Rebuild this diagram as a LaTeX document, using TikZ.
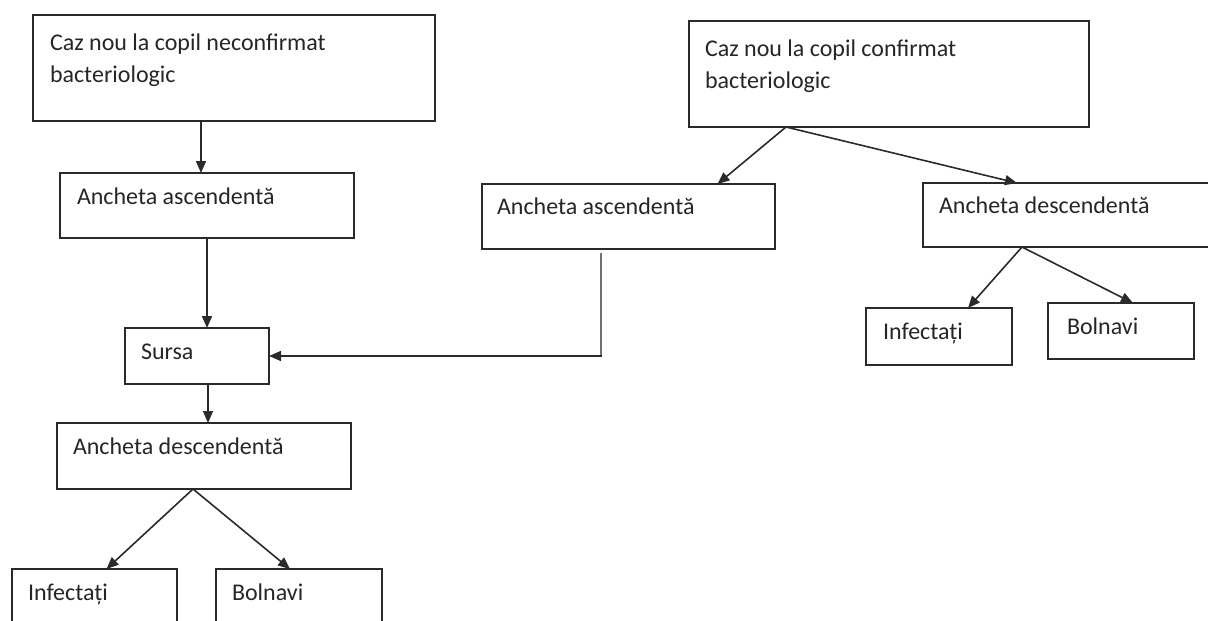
\documentclass[tikz,border=0pt]{standalone}
\usepackage{fontspec}
\setmainfont{Carlito}
\usetikzlibrary{arrows.meta,calc}

\definecolor{ink}{HTML}{2A2A2A}
\definecolor{txt}{HTML}{262626}
\definecolor{thinline}{HTML}{707070}

\tikzset{
  box/.style={draw=ink, line width=1.8pt, fill=white, rectangle,
              inner sep=0pt, outer sep=0pt, anchor=north west},
  lbl/.style={text=txt, inner sep=0pt, outer sep=0pt, anchor=base west,
              font=\fontsize{24pt}{32pt}\selectfont},
  arr/.style={draw=ink, line width=1.6pt, -{Triangle[length=12pt,width=10pt]}},
  plain/.style={draw=thinline, line width=1.4pt}
}

\begin{document}
\begin{tikzpicture}[x=1pt, y=-1pt]
\useasboundingbox (0,0) rectangle (1208,621);

% ---- left column: case not confirmed bacteriologically ----
\node[box, minimum width=402pt, minimum height=106pt] (caz1) at (33,15) {};
\node[lbl] (caz1a) at ($(caz1.north west)+(17,35)$) {Caz nou la copil neconfirmat};
\node[lbl] (caz1b) at ($(caz1.north west)+(17,67)$) {bacteriologic};

\node[box, minimum width=294pt, minimum height=65pt] (asc1) at (60,173) {};
\node[lbl] (asc1t) at ($(asc1.north west)+(17,31)$) {Ancheta ascendentă};

\node[box, minimum width=144pt, minimum height=56pt] (sursa) at (125,328) {};
\node[lbl] (sursat) at ($(sursa.north west)+(16,31)$) {Sursa};

\node[box, minimum width=294pt, minimum height=66pt] (desc1) at (57,423) {};
\node[lbl] (desc1t) at ($(desc1.north west)+(16,31)$) {Ancheta descendentă};

\node[box, minimum width=165pt, minimum height=70pt] (inf1) at (12,569) {};
\node[lbl] (inf1t) at ($(inf1.north west)+(16,31)$) {Infectați};

\node[box, minimum width=166pt, minimum height=70pt] (bol1) at (216,569) {};
\node[lbl] (bol1t) at ($(bol1.north west)+(16,31)$) {Bolnavi};

% ---- right column: case confirmed bacteriologically ----
\node[box, minimum width=400pt, minimum height=106pt] (caz2) at (689,21) {};
\node[lbl] (caz2a) at ($(caz2.north west)+(16,35)$) {Caz nou la copil confirmat};
\node[lbl] (caz2b) at ($(caz2.north west)+(16,67)$) {bacteriologic};

\node[box, minimum width=293pt, minimum height=65pt] (asc2) at (482,184) {};
\node[lbl] (asc2t) at ($(asc2.north west)+(15,30)$) {Ancheta ascendentă};

\node[box, minimum width=300pt, minimum height=64pt] (desc2) at (923,183) {};
\node[lbl] (desc2t) at ($(desc2.north west)+(16,30)$) {Ancheta descendentă};

\node[box, minimum width=146pt, minimum height=57pt] (inf2) at (866,308) {};
\node[lbl] (inf2t) at ($(inf2.north west)+(17,31)$) {Infectați};

\node[box, minimum width=146pt, minimum height=56pt] (bol2) at (1048,303) {};
\node[lbl] (bol2t) at ($(bol2.north west)+(19,31)$) {Bolnavi};

% ---- connectors, left column ----
\draw[arr] ([xshift=-6pt]asc1.north |- caz1.south) -- ([xshift=-6pt]asc1.north);
\draw[arr] (asc1.south) -- (asc1.south |- sursa.north);
\draw[arr] ([xshift=11pt]sursa.south) -- ([xshift=11pt]sursa.south |- desc1.north);
\draw[arr] ([xshift=-11pt]desc1.south) -- ([xshift=12pt]inf1.north);
\draw[arr] ([xshift=-11pt]desc1.south) -- ([xshift=-9pt]bol1.north);

% ---- connectors, right column ----
\draw[arr] ([xshift=-103pt]caz2.south) -- ([xshift=89pt]asc2.north);
\draw[arr] ([xshift=-103pt]caz2.south) -- ([xshift=94pt]desc2.north west);
\draw[arr] ([xshift=99pt]desc2.south west) -- ([xshift=29pt]inf2.north);
\draw[arr] ([xshift=99pt]desc2.south west) -- ([xshift=12pt]bol2.north);

% ---- link from the right-hand ascending inquiry back to the source ----
\coordinate (tap) at ($(asc2.south west)+(119,4)$);
\coordinate (bend) at (tap |- sursa.east);
\draw[plain] (tap) -- ([yshift=-1pt]bend);
\draw[arr] ([xshift=1pt]bend) -- (sursa.east);
\end{tikzpicture}
\end{document}
